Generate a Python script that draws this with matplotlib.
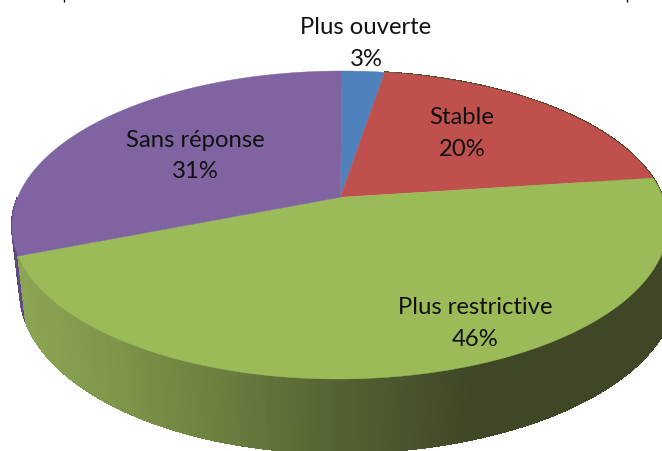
import matplotlib
matplotlib.use('Agg')
import matplotlib.pyplot as plt
import numpy as np

labels = ['Plus ouverte', 'Stable', 'Plus restrictive', 'Sans réponse']
pct_labels = ['3%', '20%', '46%', '31%']
values = [2.5, 20.4, 46.1, 31.0]
colors = ['#4F81BD', '#C0504D', '#9BBB59', '#8064A2']
label_x = [366, 462, 475, 195]
label_y = [28, 117, 308, 141]
pct_y = [59, 150, 340, 172]

plt.rcParams['font.family'] = ['Lato', 'DejaVu Sans']

# ellipse of the top face, in pixels
cx, cy, rx, ry = 340, 226, 328, 154
tilt = 0.18


def circle(t):
    # t is clockwise from the top; moves the centre up like the 3d view does
    x, y = np.sin(t), np.cos(t)
    d = 1 + tilt * y
    return x * np.sqrt(1 - tilt ** 2) / d, (y + tilt) / d


def top_xy(t):
    x, y = circle(t)
    return cx + rx * x + 2 * y, cy - ry * y


def bottom_xy(t):
    x, y = circle(t)
    # left side of the base pulls in more than the right
    return cx + np.where(x < 0, 320, 336) * x + 2 * y, cy - ry * y + 65 - 9 * y


def wall(ax, t0, t1, color=None):
    ts = np.linspace(t0, t1, 200)
    stops = [20, 120, 220, 330, 470]
    for a, b in zip(ts[:-1], ts[1:]):
        xa, ya = top_xy(np.array([a, b]))
        xb, yb = bottom_xy(np.array([b, a]))
        c = color
        if c is None:
            mid = (xa.mean() + xb.mean()) / 2
            c = (np.interp(mid, stops, [0.55, 0.49, 0.42, 0.33, 0.25]),
                 np.interp(mid, stops, [0.65, 0.58, 0.50, 0.39, 0.28]),
                 np.interp(mid, stops, [0.33, 0.29, 0.25, 0.20, 0.15]))
        ax.fill(np.r_[xa, xb], np.r_[ya, yb], color=c, lw=0.8, antialiased=False)


fig = plt.figure(figsize=(6.62, 4.52), dpi=100)
ax = fig.add_axes([0, 0, 1, 1])
ax.set_xlim(0, 662)
ax.set_ylim(452, 0)
ax.axis('off')

edges = 2 * np.pi * np.cumsum([0] + values) / sum(values)

# side walls first, the purple one only shows as a sliver on the left
wall(ax, edges[3], 1.5 * np.pi, '#5E4A80')
wall(ax, edges[2], edges[3])
wall(ax, edges[1], edges[2])

for i in range(len(values)):
    ts = np.linspace(edges[i], edges[i + 1], 200)
    x, y = top_xy(ts)
    ax.fill(np.r_[cx + 2 * tilt, x], np.r_[cy - ry * tilt, y], color=colors[i], lw=0.3)

for i in range(len(labels)):
    ax.text(label_x[i], label_y[i], labels[i], ha='center', va='center', fontsize=17.2, color='#111111')
    ax.text(label_x[i], pct_y[i], pct_labels[i], ha='center', va='center', fontsize=17.2, color='#111111')

# bits of the cut off title at the top edge
ax.vlines([64, 627], 0, 3, color='black', lw=1)

fig.savefig('out.png', dpi=100)
